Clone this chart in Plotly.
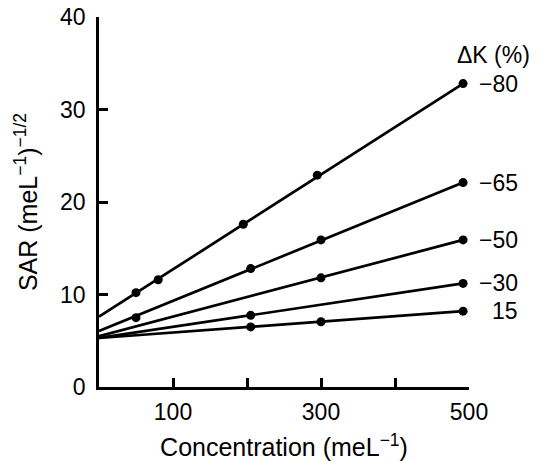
import plotly.graph_objects as go

# ΔK series: measured points (concentration, SAR) and fitted-line intercept at x=0
labels = ["−80", "−65", "−50", "−30", "15"]
conc_pts = [
    [50, 80, 195, 295, 492],
    [50, 205, 300, 492],
    [300, 492],
    [205, 492],
    [205, 300, 492],
]
sar_pts = [
    [10.2, 11.6, 17.6, 22.9, 32.8],
    [7.5, 12.8, 15.9, 22.1],
    [11.8, 15.9],
    [7.75, 11.2],
    [6.5, 7.05, 8.2],
]
intercepts = [7.6, 6.05, 5.5, 5.3, 5.3]

x_tickvals = [100, 200, 300, 400, 500]
x_ticktext = ["100", "", "300", "", "500"]
y_tickvals = [0, 10, 20, 30, 40]

FONT = "Liberation Sans, Arial, Helvetica, sans-serif"

fig = go.Figure()
for lab, xs, ys, b in zip(labels, conc_pts, sar_pts, intercepts):
    fig.add_trace(go.Scatter(
        x=[0, xs[-1]], y=[b, ys[-1]], mode="lines",
        line=dict(color="black", width=2.7), showlegend=False, hoverinfo="skip",
        cliponaxis=False))
    fig.add_trace(go.Scatter(
        x=xs, y=ys, mode="markers",
        marker=dict(color="black", size=9), showlegend=False, cliponaxis=False))
    fig.add_annotation(
        x=1.137, xref="paper", y=ys[-1], yref="y", text=lab, showarrow=False,
        xanchor="right", yanchor="middle", font=dict(size=23, color="black", family=FONT))

fig.add_annotation(
    x=1.065, xref="paper", y=35.9, yref="y", text="ΔK (%)", showarrow=False,
    xanchor="center", yanchor="middle", font=dict(size=23, color="black", family=FONT))

fig.update_layout(
    width=542, height=461,
    margin=dict(l=99, r=73, t=17, b=74),
    plot_bgcolor="white", paper_bgcolor="white",
    font=dict(family=FONT, size=23, color="black"),
    xaxis=dict(
        range=[0, 500], showgrid=False, zeroline=False,
        showline=True, linecolor="black", linewidth=2.8,
        ticks="inside", ticklen=9, tickwidth=2.8, tickcolor="black",
        tickvals=x_tickvals, ticktext=x_ticktext,
        tickfont=dict(size=23), ticklabelstandoff=2,
        title=dict(text="Concentration (meL<sup>−1</sup>)", font=dict(size=25), standoff=18),
        automargin=False,
    ),
    yaxis=dict(
        range=[0, 40], showgrid=False, zeroline=False,
        showline=True, linecolor="black", linewidth=2.8,
        ticks="inside", ticklen=9, tickwidth=2.8, tickcolor="black",
        tickvals=y_tickvals, tickfont=dict(size=23), ticklabelstandoff=6,
        title=dict(text="SAR (meL<sup>−1</sup>)<sup>−1/2</sup>", font=dict(size=25), standoff=16),
        automargin=False,
    ),
)

fig.write_html("out.html")
